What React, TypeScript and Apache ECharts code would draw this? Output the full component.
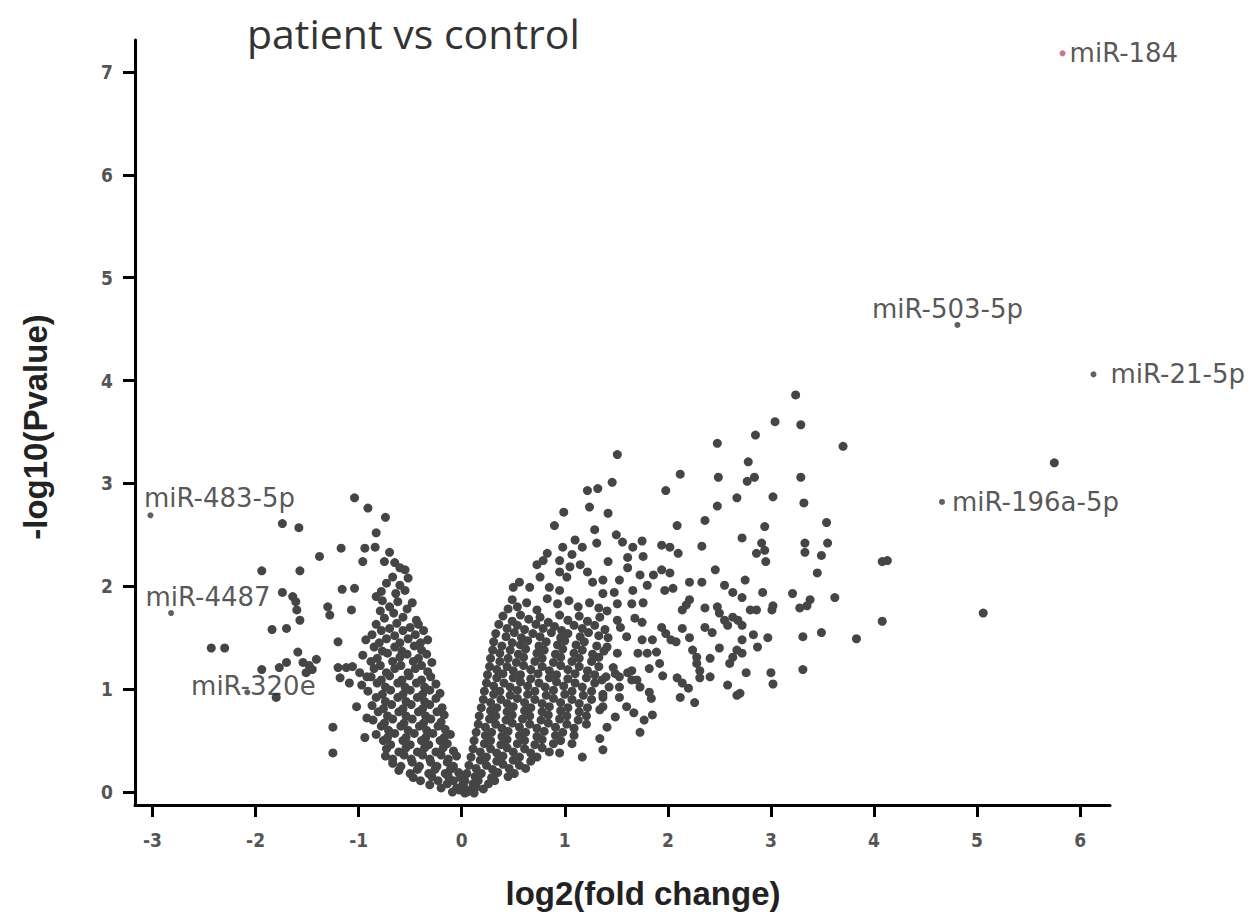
import React, { useEffect, useRef } from 'react';
import * as echarts from 'echarts';

// ---------- tick values ----------
const xTicks = [-3, -2, -1, 0, 1, 2, 3, 4, 5, 6];
const yTicks = [0, 1, 2, 3, 4, 5, 6, 7];

// ---------- labelled miRNAs ----------
const labelNames = ['miR-184', 'miR-503-5p', 'miR-21-5p', 'miR-196a-5p', 'miR-483-5p', 'miR-4487', 'miR-320e'];
const labelX = [5.83, 4.81, 6.13, 4.66, -3.02, -2.82, -2.08];
const labelY = [7.18, 4.54, 4.06, 2.82, 2.69, 1.74, 0.97];

// ---------- unlabelled points (log2FC, -log10 p) ----------
const leftSparse = [
  [-1.04, 2.86], [-0.91, 2.76], [-0.74, 2.67], [-1.17, 2.37], [-1.38, 2.29], [-1.94, 2.15], [-1.57, 2.15],
  [-1.74, 2.61], [-1.58, 2.57], [-1.74, 1.94], [-1.64, 1.90], [-1.61, 1.85], [-1.60, 1.77], [-1.57, 1.67],
  [-1.16, 1.97], [-1.04, 1.98], [-1.30, 1.80], [-1.28, 1.72], [-1.07, 1.77], [-1.84, 1.58], [-1.70, 1.59],
  [-1.20, 1.46], [-1.59, 1.36], [-1.94, 1.19], [-1.77, 1.21], [-1.70, 1.26], [-1.54, 1.26], [-1.41, 1.29],
  [-1.45, 1.19], [-1.51, 1.16], [-1.48, 1.23], [-1.80, 0.92], [-2.43, 1.40], [-2.30, 1.40], [-1.25, 0.63],
  [-1.25, 0.38], [-1.02, 0.83], [-0.92, 0.72], [-0.94, 0.53], [-1.20, 1.21], [-1.12, 1.21], [-1.06, 1.22],
  [-0.99, 1.16], [-0.92, 1.12], [-1.18, 1.11], [-1.09, 1.06], [-0.97, 1.04],
];

const leftUpper = [
  [-0.83, 2.52], [-0.70, 2.33], [-0.94, 2.37], [-0.84, 2.38], [-0.96, 2.24], [-0.75, 2.24], [-0.65, 2.23],
  [-0.60, 2.18], [-0.55, 2.16], [-0.52, 2.08], [-0.67, 2.09], [-0.60, 2.01], [-0.73, 2.03], [-0.83, 1.90],
  [-0.70, 1.80], [-0.48, 1.84], [-0.57, 1.70], [-0.44, 1.67], [-0.78, 1.95], [-0.64, 1.93], [-0.55, 1.96],
  [-0.77, 1.86], [-0.62, 1.85], [-0.53, 1.78], [-0.79, 1.76], [-0.66, 1.74], [-0.75, 1.69],
];

const leftLobe = [
  [-0.83, 1.63], [-0.70, 1.59], [-0.63, 1.64], [-0.50, 1.60], [-0.42, 1.63],
  [-0.87, 1.53], [-0.78, 1.57], [-0.65, 1.52], [-0.57, 1.57], [-0.45, 1.53], [-0.37, 1.57],
  [-0.93, 1.48], [-0.80, 1.45], [-0.73, 1.49], [-0.60, 1.45], [-0.52, 1.49], [-0.40, 1.45], [-0.33, 1.48],
  [-0.85, 1.41], [-0.77, 1.37], [-0.65, 1.41], [-0.58, 1.37], [-0.46, 1.42], [-0.39, 1.38],
  [-0.96, 1.33], [-0.82, 1.30], [-0.72, 1.35], [-0.60, 1.31], [-0.53, 1.34], [-0.42, 1.30], [-0.34, 1.34],
  [-0.88, 1.27], [-0.79, 1.23], [-0.67, 1.27], [-0.59, 1.23], [-0.47, 1.27], [-0.39, 1.23], [-0.29, 1.26],
  [-0.85, 1.20], [-0.73, 1.16], [-0.65, 1.20], [-0.52, 1.16], [-0.45, 1.20], [-0.33, 1.17],
  [-0.88, 1.12], [-0.78, 1.09], [-0.70, 1.13], [-0.58, 1.09], [-0.51, 1.13], [-0.39, 1.09], [-0.30, 1.12],
  [-0.82, 1.06], [-0.74, 1.02], [-0.62, 1.06], [-0.55, 1.02], [-0.44, 1.06], [-0.36, 1.02], [-0.25, 1.05],
  [-0.91, 0.98], [-0.77, 0.95], [-0.69, 0.99], [-0.57, 0.95], [-0.50, 0.99], [-0.38, 0.95], [-0.31, 0.99], [-0.21, 0.96],
  [-0.83, 0.92], [-0.74, 0.88], [-0.62, 0.92], [-0.54, 0.88], [-0.43, 0.92], [-0.36, 0.88], [-0.25, 0.91],
  [-0.87, 0.84], [-0.76, 0.81], [-0.68, 0.85], [-0.57, 0.81], [-0.49, 0.85], [-0.38, 0.81], [-0.31, 0.85], [-0.19, 0.82],
  [-0.81, 0.78], [-0.72, 0.74], [-0.61, 0.78], [-0.54, 0.74], [-0.42, 0.78], [-0.35, 0.74], [-0.24, 0.78], [-0.17, 0.75],
  [-0.86, 0.70], [-0.75, 0.67], [-0.67, 0.71], [-0.56, 0.67], [-0.48, 0.71], [-0.37, 0.67], [-0.30, 0.71], [-0.20, 0.68],
  [-0.78, 0.64], [-0.71, 0.60], [-0.59, 0.64], [-0.52, 0.60], [-0.41, 0.64], [-0.34, 0.60], [-0.23, 0.64], [-0.16, 0.61],
  [-0.83, 0.56], [-0.72, 0.53], [-0.65, 0.57], [-0.54, 0.53], [-0.46, 0.57], [-0.35, 0.53], [-0.28, 0.57], [-0.17, 0.53], [-0.11, 0.56],
  [-0.76, 0.50], [-0.69, 0.46], [-0.57, 0.50], [-0.50, 0.46], [-0.39, 0.50], [-0.32, 0.46], [-0.21, 0.50], [-0.14, 0.47],
  [-0.73, 0.42], [-0.61, 0.39], [-0.54, 0.43], [-0.43, 0.39], [-0.36, 0.43], [-0.25, 0.39], [-0.18, 0.43], [-0.08, 0.40],
  [-0.74, 0.35], [-0.67, 0.32], [-0.56, 0.36], [-0.49, 0.32], [-0.38, 0.36], [-0.31, 0.32], [-0.20, 0.36], [-0.13, 0.32], [-0.05, 0.35],
  [-0.67, 0.28], [-0.59, 0.25], [-0.48, 0.29], [-0.41, 0.25], [-0.30, 0.29], [-0.24, 0.25], [-0.14, 0.29], [-0.08, 0.25],
  [-0.61, 0.21], [-0.50, 0.18], [-0.43, 0.22], [-0.32, 0.18], [-0.26, 0.22], [-0.16, 0.18], [-0.11, 0.22], [-0.03, 0.19],
  [-0.47, 0.14], [-0.40, 0.11], [-0.29, 0.15], [-0.23, 0.11], [-0.13, 0.15], [-0.08, 0.11], [-0.01, 0.14],
  [-0.31, 0.07], [-0.20, 0.04], [-0.14, 0.08], [-0.05, 0.04], [0.01, 0.07],
  [-0.09, 0.00], [-0.02, 0.02], [0.03, -0.01],
];

const rightLobe = [
  [0.40, 1.71], [0.49, 1.66], [0.57, 1.72], [0.65, 1.68], [0.76, 1.70], [0.84, 1.65], [0.95, 1.72], [1.03, 1.67], [1.14, 1.71], [1.22, 1.66], [1.34, 1.70],
  [0.36, 1.63], [0.44, 1.59], [0.54, 1.62], [0.61, 1.58], [0.72, 1.63], [0.79, 1.59], [0.90, 1.61], [0.97, 1.57], [1.09, 1.62], [1.17, 1.59], [1.29, 1.62], [1.39, 1.58],
  [0.33, 1.54], [0.43, 1.51], [0.51, 1.55], [0.58, 1.50], [0.69, 1.54], [0.76, 1.51], [0.87, 1.55], [0.96, 1.50], [1.03, 1.54], [1.15, 1.51], [1.23, 1.55], [1.33, 1.52],
  [0.31, 1.46], [0.39, 1.42], [0.49, 1.45], [0.57, 1.43], [0.64, 1.47], [0.75, 1.42], [0.82, 1.46], [0.93, 1.43], [1.00, 1.47], [1.11, 1.43], [1.19, 1.46], [1.31, 1.42],
  [0.30, 1.38], [0.37, 1.35], [0.47, 1.38], [0.55, 1.34], [0.62, 1.39], [0.73, 1.35], [0.80, 1.38], [0.91, 1.34], [0.98, 1.39], [1.09, 1.35], [1.17, 1.38], [1.27, 1.34], [1.38, 1.37],
  [0.28, 1.30], [0.37, 1.27], [0.45, 1.30], [0.53, 1.26], [0.60, 1.31], [0.71, 1.27], [0.78, 1.30], [0.89, 1.26], [0.96, 1.31], [1.07, 1.27], [1.14, 1.30], [1.26, 1.27], [1.33, 1.31],
  [0.27, 1.22], [0.34, 1.19], [0.44, 1.22], [0.50, 1.18], [0.60, 1.23], [0.67, 1.19], [0.78, 1.22], [0.85, 1.18], [0.96, 1.23], [1.03, 1.19], [1.14, 1.22], [1.22, 1.18], [1.33, 1.22],
  [0.25, 1.14], [0.34, 1.11], [0.40, 1.15], [0.50, 1.11], [0.57, 1.14], [0.67, 1.10], [0.74, 1.15], [0.85, 1.11], [0.92, 1.14], [1.03, 1.10], [1.10, 1.15], [1.21, 1.11], [1.29, 1.14], [1.40, 1.12],
  [0.24, 1.06], [0.31, 1.03], [0.41, 1.06], [0.47, 1.02], [0.57, 1.07], [0.64, 1.03], [0.75, 1.06], [0.81, 1.02], [0.92, 1.07], [0.99, 1.03], [1.10, 1.06], [1.17, 1.02], [1.29, 1.06],
  [0.22, 0.98], [0.31, 0.95], [0.37, 0.98], [0.47, 0.94], [0.54, 0.99], [0.64, 0.95], [0.71, 0.98], [0.82, 0.94], [0.89, 0.99], [1.00, 0.95], [1.07, 0.98], [1.18, 0.94], [1.26, 0.98], [1.37, 0.95],
  [0.21, 0.90], [0.28, 0.87], [0.38, 0.90], [0.44, 0.86], [0.54, 0.91], [0.61, 0.87], [0.71, 0.90], [0.78, 0.86], [0.89, 0.91], [0.96, 0.87], [1.07, 0.90], [1.14, 0.86], [1.26, 0.90],
  [0.19, 0.82], [0.28, 0.79], [0.34, 0.82], [0.44, 0.78], [0.50, 0.83], [0.61, 0.79], [0.67, 0.82], [0.78, 0.78], [0.85, 0.83], [0.96, 0.79], [1.03, 0.82], [1.14, 0.78], [1.22, 0.82], [1.34, 0.80],
  [0.17, 0.74], [0.27, 0.71], [0.33, 0.74], [0.43, 0.70], [0.49, 0.75], [0.59, 0.71], [0.66, 0.74], [0.77, 0.70], [0.84, 0.75], [0.95, 0.71], [1.02, 0.74], [1.13, 0.70], [1.21, 0.74],
  [0.16, 0.66], [0.23, 0.63], [0.33, 0.66], [0.39, 0.62], [0.49, 0.67], [0.56, 0.63], [0.66, 0.66], [0.73, 0.62], [0.84, 0.67], [0.91, 0.63], [1.02, 0.66], [1.09, 0.62], [1.21, 0.66],
  [0.14, 0.58], [0.23, 0.55], [0.29, 0.58], [0.39, 0.54], [0.45, 0.59], [0.56, 0.55], [0.62, 0.58], [0.73, 0.54], [0.80, 0.59], [0.91, 0.55], [0.98, 0.58], [1.09, 0.55],
  [0.12, 0.50], [0.22, 0.47], [0.28, 0.50], [0.38, 0.46], [0.44, 0.51], [0.54, 0.47], [0.61, 0.50], [0.71, 0.46], [0.78, 0.51], [0.89, 0.47], [0.96, 0.50], [1.07, 0.47],
  [0.11, 0.42], [0.18, 0.39], [0.28, 0.42], [0.34, 0.38], [0.44, 0.43], [0.50, 0.39], [0.61, 0.42], [0.67, 0.38], [0.78, 0.43], [0.85, 0.39],
  [0.09, 0.34], [0.18, 0.31], [0.24, 0.34], [0.34, 0.30], [0.40, 0.35], [0.50, 0.31], [0.56, 0.34], [0.67, 0.30], [0.73, 0.34],
  [0.07, 0.26], [0.14, 0.23], [0.24, 0.26], [0.30, 0.22], [0.40, 0.27], [0.46, 0.23], [0.56, 0.26], [0.62, 0.23],
  [0.05, 0.18], [0.13, 0.15], [0.19, 0.18], [0.29, 0.14], [0.35, 0.19], [0.45, 0.15], [0.51, 0.18],
  [0.03, 0.11], [0.11, 0.08], [0.16, 0.11], [0.26, 0.08], [0.32, 0.11],
  [0.02, 0.05], [0.09, 0.02], [0.14, 0.05], [0.21, 0.03],
  [0.05, 0.00], [0.12, -0.01],
];

const rightUpper = [
  [1.22, 2.93], [1.32, 2.95], [0.99, 2.72], [1.24, 2.77], [0.90, 2.59], [1.29, 2.55], [1.10, 2.45], [0.98, 2.38],
  [1.17, 2.38], [1.31, 2.42], [0.83, 2.32], [0.95, 2.25], [1.05, 2.19], [1.15, 2.21], [1.22, 2.14], [1.07, 2.31],
  [0.79, 2.25], [0.73, 2.21], [0.56, 2.04], [0.66, 1.99], [0.76, 2.09], [0.85, 1.99], [0.95, 1.96], [1.02, 2.09],
  [0.95, 2.14], [1.27, 2.04], [1.37, 2.06], [0.49, 1.87], [0.54, 1.80], [0.63, 1.84], [0.73, 1.77], [0.50, 1.99],
  [0.83, 1.88], [0.93, 1.83], [1.04, 1.86], [1.13, 1.80], [1.24, 1.84], [1.33, 1.79], [0.45, 1.78],
];

const midSpread = [
  [2.48, 3.39], [1.51, 3.28], [2.12, 3.09], [2.49, 3.06], [1.46, 3.01], [1.98, 2.93], [2.48, 2.78], [1.42, 2.71],
  [2.36, 2.64], [2.09, 2.59], [1.50, 2.50], [1.56, 2.43], [2.33, 2.39], [1.75, 2.44], [1.66, 2.38], [1.76, 2.29],
  [1.94, 2.40], [2.02, 2.38], [2.10, 2.32], [1.42, 2.24], [1.61, 2.28], [1.61, 2.18], [2.46, 2.16], [1.73, 2.11],
  [1.86, 2.11], [1.94, 2.16], [2.02, 2.13], [2.21, 2.04], [2.33, 2.04], [2.55, 2.01], [2.63, 1.94], [1.53, 2.06],
  [1.48, 1.94], [1.66, 1.96], [1.80, 2.01], [1.97, 1.96], [2.05, 1.98], [2.21, 1.87], [2.18, 1.82], [2.14, 1.77],
  [2.48, 1.80], [2.50, 1.74], [2.55, 1.67], [2.58, 1.62], [2.36, 1.79], [1.37, 1.93], [1.76, 1.84], [1.65, 1.83],
  [1.51, 1.83], [1.41, 1.76], [1.68, 1.69], [1.75, 1.65], [1.51, 1.67], [1.54, 1.60], [1.94, 1.60], [1.98, 1.54],
  [2.03, 1.48], [2.08, 1.46], [2.14, 1.59], [2.21, 1.50], [2.36, 1.60], [2.43, 1.55], [2.24, 1.38], [2.28, 1.31],
  [2.28, 1.25], [2.31, 1.18], [2.41, 1.30], [2.50, 1.40], [1.75, 1.48], [1.85, 1.48], [1.60, 1.51], [1.71, 1.35],
  [1.89, 1.36], [1.80, 1.35], [1.92, 1.25], [1.42, 1.50], [1.41, 1.41], [1.51, 1.35], [1.47, 1.21], [1.49, 1.15],
  [1.65, 1.18], [1.82, 1.20], [1.95, 1.13], [2.09, 1.11], [2.14, 1.06], [2.20, 1.01], [2.31, 1.11], [2.41, 1.12],
  [2.12, 0.92], [2.26, 0.87], [1.65, 1.09], [1.73, 1.02], [1.82, 0.97], [1.84, 0.91], [1.53, 1.02], [1.43, 1.02],
  [1.53, 0.92], [1.60, 0.83], [1.67, 0.77], [1.77, 0.70], [1.73, 0.58], [1.49, 0.73], [1.41, 0.63], [1.53, 1.12],
  [1.61, 1.16], [1.70, 1.09], [1.85, 0.75], [1.34, 0.52], [1.37, 0.41], [1.17, 0.34], [0.95, 0.38], [1.36, 1.09],
  [1.37, 0.92], [1.37, 0.83],
];

const midRight = [
  [3.04, 3.60], [2.85, 3.47], [2.78, 3.21], [2.84, 3.06], [2.77, 3.02], [3.02, 2.87], [2.94, 2.58], [2.72, 2.47],
  [2.91, 2.42], [2.94, 2.35], [2.86, 2.32], [2.95, 2.24], [2.75, 2.06], [2.92, 1.94], [2.72, 1.89], [2.80, 1.77],
  [2.86, 1.77], [3.01, 1.77], [3.02, 1.81], [2.83, 1.53], [2.87, 1.41], [2.97, 1.50], [2.72, 1.48], [2.72, 1.35],
  [2.76, 1.16], [3.00, 1.16], [3.02, 1.05], [2.70, 0.96], [2.67, 2.86], [2.63, 1.70], [2.68, 1.67], [2.72, 1.62],
  [2.67, 1.38], [2.63, 1.31], [2.60, 1.25], [2.67, 0.94], [2.58, 1.04],
];

const farRight = [
  [3.70, 3.36], [5.75, 3.20], [5.06, 1.74], [3.29, 3.57], [3.24, 3.86], [3.29, 3.06], [3.32, 2.81], [3.54, 2.62],
  [3.55, 2.42], [3.33, 2.42], [3.33, 2.33], [3.49, 2.30], [3.45, 2.13], [4.08, 2.24], [4.13, 2.25], [3.62, 1.89],
  [3.38, 1.87], [3.35, 1.81], [3.28, 1.79], [4.08, 1.66], [3.83, 1.49], [3.49, 1.55], [3.31, 1.51], [3.31, 1.19],
  [3.21, 1.93],
];

// ---------- label placement (style, not data) ----------
const labelPlacement: any[] = [
  { position: 'right', distance: 4 },
  { position: 'top', distance: 0, offset: [-10, 0] },
  { position: 'right', distance: 14 },
  { position: 'right', distance: 7 },
  { position: 'top', distance: 1, offset: [69, 0] },
  { position: 'top', distance: 0, offset: [37, 0] },
  { position: 'inside', offset: [6, -6] },
];

export default function App() {
  const ref = useRef<HTMLDivElement>(null);

  useEffect(() => {
    const chart = echarts.init(ref.current!, null, { renderer: 'svg' });
    const allPoints = [
      ...leftSparse, ...leftUpper, ...leftLobe, ...rightLobe,
      ...rightUpper, ...midSpread, ...midRight, ...farRight,
    ];
    const labeled = labelNames.map((n, i) => ({
      name: n,
      value: [labelX[i], labelY[i]],
      itemStyle: { color: i === 0 ? '#c8506a' : '#3a3a3a' },
      label: {
        show: true,
        formatter: '{b}',
        color: '#2b2b2b',
        fontSize: 26,
        fontFamily: "'DejaVu Sans', sans-serif",
        ...labelPlacement[i],
      },
    }));

    const tickFont = "'Liberation Sans Narrow', 'DejaVu Sans Condensed', 'Liberation Sans', sans-serif";

    chart.setOption({
      animation: false,
      backgroundColor: '#ffffff',
      grid: { left: 135, right: 146, top: 40, bottom: 113, containLabel: false },
      xAxis: {
        type: 'value',
        min: -3.17,
        max: 6.29,
        splitLine: { show: false },
        axisLine: { show: true, onZero: false, lineStyle: { color: '#000', width: 3 } },
        axisTick: { show: true, customValues: xTicks, length: 12, lineStyle: { color: '#000', width: 3 } },
        axisLabel: {
          customValues: xTicks,
          margin: 25,
          fontSize: 19,
          fontWeight: 'bold',
          color: '#555',
          fontFamily: tickFont,
        },
      },
      yAxis: {
        type: 'value',
        min: -0.126,
        max: 7.31,
        splitLine: { show: false },
        axisLine: { show: true, onZero: false, lineStyle: { color: '#000', width: 3 } },
        axisTick: { show: true, customValues: yTicks, length: 12, lineStyle: { color: '#000', width: 3 } },
        axisLabel: {
          customValues: yTicks,
          margin: 22,
          fontSize: 19,
          fontWeight: 'bold',
          color: '#555',
          fontFamily: tickFont,
        },
      },
      series: [
        {
          type: 'scatter',
          data: allPoints,
          symbol: 'circle',
          symbolSize: 9,
          itemStyle: { color: '#454545', opacity: 1 },
          silent: true,
          z: 2,
        },
        {
          type: 'scatter',
          data: labeled,
          symbol: 'circle',
          symbolSize: 6,
          silent: true,
          z: 3,
        },
      ],
      graphic: [
        {
          type: 'text',
          left: 247,
          top: 12,
          style: {
            text: 'patient vs control',
            fill: '#333',
            fontSize: 41,
            fontFamily: "'Open Sans', sans-serif",
          },
        },
        {
          type: 'text',
          x: 643,
          y: 893,
          style: {
            text: 'log2(fold change)',
            fill: '#222',
            fontSize: 33,
            fontWeight: 'bold',
            fontFamily: "'Liberation Sans', Arial, sans-serif",
            align: 'center',
            verticalAlign: 'middle',
            textAlign: 'center',
            textVerticalAlign: 'middle',
          },
        },
        {
          type: 'text',
          x: 35,
          y: 427,
          rotation: Math.PI / 2,
          style: {
            text: '-log10(Pvalue)',
            fill: '#222',
            fontSize: 33,
            fontWeight: 'bold',
            fontFamily: "'Liberation Sans', Arial, sans-serif",
            align: 'center',
            verticalAlign: 'middle',
            textAlign: 'center',
            textVerticalAlign: 'middle',
          },
        },
      ],
    });
    return () => chart.dispose();
  }, []);

  return (
    <div
      ref={ref}
      style={{ position: 'absolute', left: 0, top: 0, width: 1256, height: 918, background: '#fff' }}
    />
  );
}
